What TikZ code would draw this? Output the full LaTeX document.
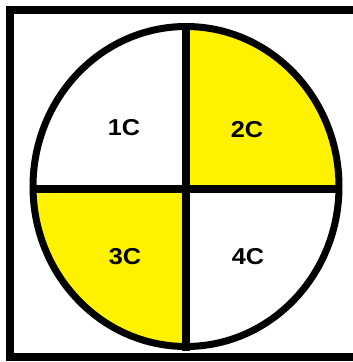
\documentclass[tikz,border=0pt]{standalone}
\usepackage{fontspec}
\setmainfont{Liberation Sans}
\definecolor{qyellow}{RGB}{255,242,0}
\begin{document}
\begin{tikzpicture}[x=1pt,y=-1pt,
  lbl/.style={font=\bfseries\fontsize{23}{27}\selectfont, inner sep=0pt},
  outline/.style={line width=7pt},
  cross/.style={line width=8pt}]
\clip (0,0) rectangle (353,362);
\fill[white] (0,0) rectangle (353,362);
\coordinate (c) at (186,186.5);
\begin{scope}
  \clip (186,0) rectangle (353,189);
  \fill[qyellow] (c) ellipse [x radius=153, y radius=160];
\end{scope}
\begin{scope}
  \clip (0,189) rectangle (186,362);
  \fill[qyellow] (c) ellipse [x radius=153, y radius=160];
\end{scope}
\draw[line width=8pt] (10,9.5) rectangle (420,356.5);
\coordinate (top) at (186,24);
\coordinate (bot) at (186,351);
\coordinate (lft) at (33,189);
\coordinate (rgt) at (339,189);
\draw[cross] (top) -- (bot);
\draw[cross] (lft) -- (rgt);
\draw[outline] (c) ellipse [x radius=153, y radius=160];
\node[lbl] (q1) at (124,128) {\scalebox{1.1}[1]{1C}};
\node[lbl] (q2) at (247,130) {\scalebox{1.1}[1]{2C}};
\node[lbl] (q3) at (125,257) {\scalebox{1.1}[1]{3C}};
\node[lbl] (q4) at (248,257) {\scalebox{1.1}[1]{4C}};
\end{tikzpicture}
\end{document}
